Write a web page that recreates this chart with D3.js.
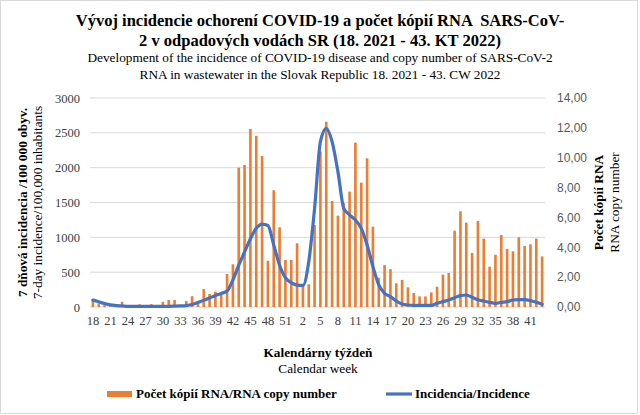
<!DOCTYPE html>
<html>
<head>
<meta charset="utf-8">
<script src="https://cdn.jsdelivr.net/npm/d3@7"></script>
<style>
    body { margin: 0; background: #fff; }
    #d3 { width: 640px; height: 415px; }
    text { font-family: "Liberation Serif", "Times New Roman", serif; }
</style>
</head>
<body>
<div id="d3"></div>
<script>

// calendar weeks 18/2021 .. 43/2022
const weeks = [
    18, 19, 20, 21, 22, 23, 24, 25, 26, 27, 28, 29, 30, 31, 32, 33, 34, 35,
    36, 37, 38, 39, 40, 41, 42, 43, 44, 45, 46, 47, 48, 49, 50, 51, 52,
    1, 2, 3, 4, 5, 6, 7, 8, 9, 10, 11, 12, 13, 14, 15, 16, 17, 18, 19, 20,
    21, 22, 23, 24, 25, 26, 27, 28, 29, 30, 31, 32, 33, 34, 35, 36, 37, 38,
    39, 40, 41, 42, 43
];

// RNA copy number (right axis)
const rnaCopies = [
    0.42, 0.24, 0.14, 0.05, 0.05, 0.35, 0.02, 0.02, 0.18, 0.05, 0.19, 0.02, 0.35, 0.47, 0.47, 0.09, 0.40, 0.72,
    0.23, 1.20, 0.87, 1.03, 0.80, 2.21, 2.86, 9.33, 9.51, 11.92, 11.46, 10.11, 3.10, 7.82, 5.34, 3.15, 3.15,
    4.27, 1.54, 1.52, 5.49, 10.41, 12.41, 7.10, 6.12, 6.94, 7.73, 11.01, 8.33, 9.96, 5.38, 1.96, 2.81, 2.54, 1.59, 1.81, 1.32,
    0.94, 0.71, 0.71, 0.98, 1.36, 2.17, 2.28, 5.11, 6.41, 5.65, 3.62, 5.76, 4.58, 2.70, 3.50, 4.82, 3.89, 3.73,
    4.67, 4.09, 4.20, 4.58, 3.39
];

// 7-day incidence per 100 000 (left axis)
const incidence = [
    100, 75, 50, 30, 20, 15, 10, 10, 10, 10, 10, 10, 10, 10, 12, 15, 20, 35,
    65, 95, 130, 165, 195, 230, 390, 600, 790, 980, 1130, 1190, 1170, 890, 600, 420, 350,
    315, 311, 651, 1416, 2373, 2565, 2373, 1943, 1416, 1321, 1249, 1129, 890, 580, 316, 196, 148, 86, 43, 29,
    24, 24, 24, 24, 53, 77, 100, 134, 163, 172, 139, 105, 86, 67, 53, 67, 77, 100,
    105, 105, 91, 67, 38
];

const leftTicks = [0, 500, 1000, 1500, 2000, 2500, 3000];
const rightTicks = [0, 2, 4, 6, 8, 10, 12, 14];

const width = 640;
const height = 415;
const plot = { left: 90, right: 545, top: 98, bottom: 307 };

function drawChart() {
    const svg = d3
        .select("#d3")
        .append("svg")
        .attr("width", width)
        .attr("height", height);

    // outer frame
    svg.append("rect")
        .attr("x", 0.5).attr("y", 0.5)
        .attr("width", width - 3).attr("height", height - 2)
        .style("fill", "#fff")
        .style("stroke", "#d9d9d9");

    const keys = weeks.map((w, i) => i);

    const x = d3.scaleBand()
        .domain(keys)
        .range([plot.left, plot.right])
        .paddingInner(0.55)
        .paddingOuter(0.27);

    const yLeft = d3.scaleLinear().domain([0, 3000]).range([plot.bottom, plot.top]);
    const yRight = d3.scaleLinear().domain([0, 14]).range([plot.bottom, plot.top]);

    // gridlines
    svg.append("g")
        .selectAll("line")
        .data(leftTicks)
        .join("line")
        .attr("x1", plot.left)
        .attr("x2", plot.right)
        .attr("y1", d => yLeft(d))
        .attr("y2", d => yLeft(d))
        .style("stroke", "#d9d9d9")
        .style("stroke-width", 1);

    // left axis
    const leftAxis = svg.append("g")
        .attr("transform", `translate(${plot.left - 4},0)`)
        .call(d3.axisLeft(yLeft)
            .tickValues(leftTicks)
            .tickSize(0)
            .tickPadding(6)
            .tickFormat(d3.format("d")));
    leftAxis.select(".domain").remove();
    leftAxis.selectAll("text")
        .style("font-family", "Liberation Serif")
        .style("font-size", "12.5px")
        .style("fill", "#404040");

    // right axis
    const rightAxis = svg.append("g")
        .attr("transform", `translate(${plot.right + 6},0)`)
        .call(d3.axisRight(yRight)
            .tickValues(rightTicks)
            .tickSize(0)
            .tickPadding(6)
            .tickFormat(d => d3.format(".2f")(d).replace(".", ",")));
    rightAxis.select(".domain").remove();
    rightAxis.selectAll("text")
        .style("font-family", "Liberation Sans")
        .style("font-size", "12px")
        .style("fill", "#595959");

    // bottom axis, every third week
    const bottomAxis = svg.append("g")
        .attr("transform", `translate(0,${plot.bottom})`)
        .call(d3.axisBottom(x)
            .tickValues(keys.filter(i => i % 3 === 0))
            .tickSize(0)
            .tickPadding(9)
            .tickFormat(i => weeks[i]));
    bottomAxis.select(".domain").remove();
    bottomAxis.selectAll("text")
        .style("font-family", "Liberation Serif")
        .style("font-size", "12.5px")
        .style("fill", "#404040");

    // bars
    svg.append("g")
        .selectAll("rect")
        .data(rnaCopies)
        .join("rect")
        .attr("x", (d, i) => x(i))
        .attr("width", x.bandwidth())
        .attr("y", d => yRight(d))
        .attr("height", d => plot.bottom - yRight(d))
        .style("fill", "#ed7d31");

    // incidence line
    const line = d3.line()
        .x((d, i) => x(i) + x.bandwidth() / 2)
        .y(d => yLeft(d))
        .curve(d3.curveMonotoneX);

    svg.append("path")
        .datum(incidence)
        .attr("d", line)
        .style("fill", "none")
        .style("stroke", "#4472c4")
        .style("stroke-width", 3.2)
        .style("stroke-linejoin", "round")
        .style("stroke-linecap", "round");

    // titles
    const titles = [
        { t: "Vývoj incidencie ochorení COVID-19 a počet kópií RNA  SARS-CoV-", y: 26, size: 16.5, bold: true },
        { t: "2 v odpadových vodách SR (18. 2021 - 43. KT 2022)", y: 46, size: 16.5, bold: true },
        { t: "Development of the incidence of COVID-19 disease and copy number of SARS-CoV-2", y: 62, size: 13.3, bold: false },
        { t: "RNA in wastewater in the Slovak Republic 18. 2021 - 43. CW 2022", y: 79, size: 13.3, bold: false }
    ];
    svg.append("g")
        .selectAll("text")
        .data(titles)
        .join("text")
        .attr("x", 320)
        .attr("y", d => d.y)
        .attr("text-anchor", "middle")
        .style("font-size", d => d.size + "px")
        .style("font-weight", d => d.bold ? "bold" : "normal")
        .style("white-space", "pre")
        .text(d => d.t);

    // axis titles
    const midY = (plot.top + plot.bottom) / 2;
    axisTitle(svg, 318, 357, 0, "Kalendárny týždeň", true);
    axisTitle(svg, 318, 373, 0, "Calendar week", false);
    axisTitle(svg, 27, midY, -90, "7 dňová incidencia /100 000 obyv.", true);
    axisTitle(svg, 42, midY, -90, "7-day incidence/100,000 inhabitants", false);
    axisTitle(svg, 603, midY, -90, "Počet kópií RNA", true);
    axisTitle(svg, 619, midY, -90, "RNA copy number", false);

    // legend
    const legend = svg.append("g");
    legend.append("rect")
        .attr("x", 107).attr("y", 391)
        .attr("width", 25).attr("height", 6)
        .style("fill", "#ed7d31");
    legend.append("text")
        .attr("x", 136).attr("y", 398)
        .style("font-size", "13px")
        .style("font-weight", "bold")
        .text("Počet kópií RNA/RNA copy number");
    legend.append("line")
        .attr("x1", 386).attr("x2", 412)
        .attr("y1", 394).attr("y2", 394)
        .style("stroke", "#4472c4")
        .style("stroke-width", 3.2);
    legend.append("text")
        .attr("x", 415).attr("y", 398)
        .style("font-size", "13px")
        .style("font-weight", "bold")
        .text("Incidencia/Incidence");
}

function axisTitle(svg, x, y, rotate, label, bold) {
    svg.append("text")
        .attr("transform", `translate(${x},${y}) rotate(${rotate})`)
        .attr("text-anchor", "middle")
        .style("font-size", "13.3px")
        .style("font-weight", bold ? "bold" : "normal")
        .text(label);
}

drawChart();
</script>
</body>
</html>
